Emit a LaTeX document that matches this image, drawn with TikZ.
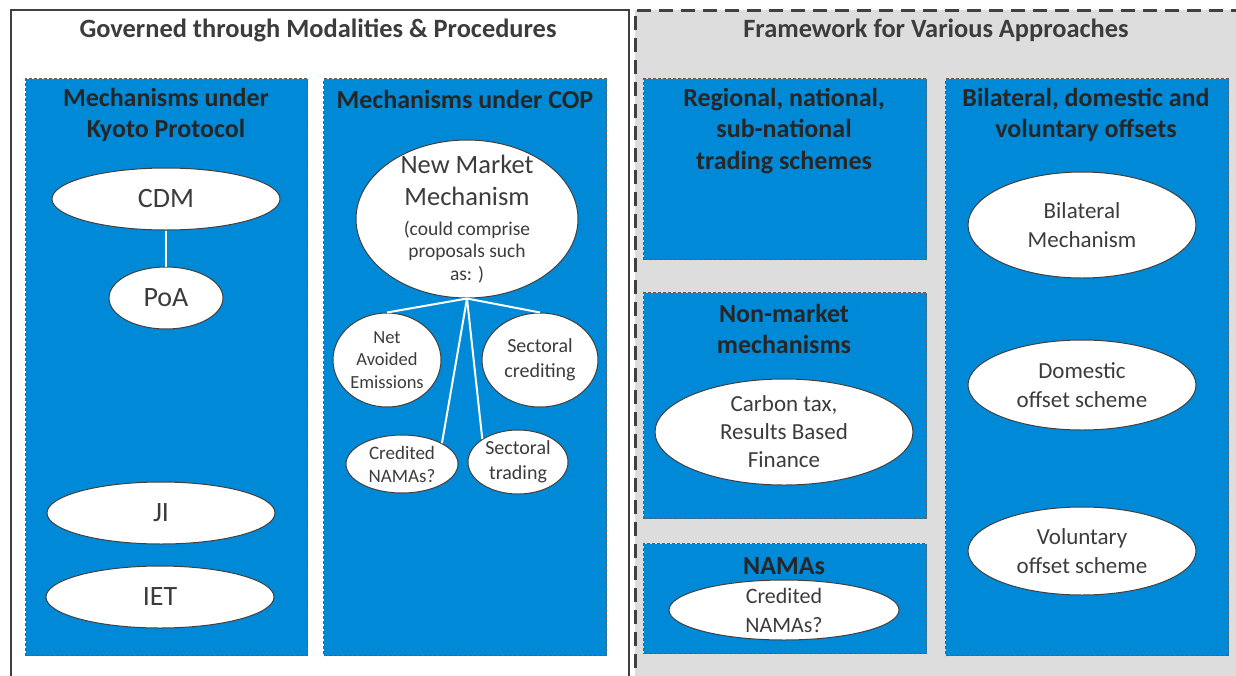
\documentclass[tikz,border=0pt]{standalone}
\usepackage{fontspec}
\setmainfont{Carlito}
\usetikzlibrary{shapes.geometric}
\definecolor{boxblue}{RGB}{0,137,214}
\definecolor{panelgray}{RGB}{221,221,221}
\definecolor{txt}{RGB}{60,60,60}
\definecolor{ttl}{RGB}{38,38,38}
\definecolor{edge}{RGB}{64,64,64}
\newcommand{\fsz}[2]{\fontsize{#1}{#2}\selectfont}
\begin{document}
\begin{tikzpicture}[x=1pt,y=-1pt,
  bluebox/.style={draw=edge!85, dash pattern=on 3pt off 2pt, line width=1pt, fill=boxblue, inner sep=0, anchor=north west},
  ell/.style={ellipse, draw=edge, line width=1pt, fill=white, inner sep=-14pt, text=txt, align=center},
  hdr/.style={text=ttl, font=\bfseries\fsz{26}{31.5}, align=center, inner sep=0},
  ptitle/.style={text=txt, font=\bfseries\fsz{26.4}{30}, inner sep=0},
  link/.style={white, line width=2pt}]
\useasboundingbox (0,0) rectangle (1236,675);
\fill[white] (0,0) rectangle (1236,675);
% panels
\node[draw=edge, line width=2pt, fill=white, inner sep=0, anchor=north west,
  minimum width=618, minimum height=690] (leftpanel) at (10,9) {};
\node[draw=edge, line width=2.5pt, dash pattern=on 14pt off 8pt, fill=panelgray, inner sep=0, anchor=north west,
  minimum width=620, minimum height=690] (rightpanel) at (634,9) {};
\node[ptitle] (lefttitle) at (318,30) {Governed through Modalities \& Procedures};
\node[ptitle] (righttitle) at (936,30) {Framework for Various Approaches};
% blue boxes
\node[bluebox, minimum width=282, minimum height=577] (kyoto) at (25,78) {};
\node[bluebox, minimum width=283, minimum height=577] (cop) at (323,78) {};
\node[bluebox, minimum width=283, minimum height=181] (regional) at (643,78) {};
\node[bluebox, minimum width=283, minimum height=226] (nonmarket) at (643,292) {};
\node[bluebox, minimum width=283, minimum height=110] (namas) at (643,543) {};
\node[bluebox, minimum width=283, minimum height=577] (offsets) at (945,78) {};
% box titles
\node[hdr] (kyotot) at (166,115) {Mechanisms under\\Kyoto Protocol};
\node[hdr] (copt) at (465,99) {Mechanisms under COP};
\node[hdr] (regionalt) at (784,131) {Regional, national,\\sub-national\\trading schemes};
\node[hdr] (nonmarkett) at (784,329) {Non-market\\mechanisms};
\node[hdr] (namast) at (784,566) {NAMAs};
\node[hdr] (offsetst) at (1086,115) {Bilateral, domestic and\\voluntary offsets};
% Kyoto ellipses
\node[ell, font=\fsz{28}{32}, minimum width=228, minimum height=62] (cdm) at (166,199) {CDM};
\node[ell, font=\fsz{28}{32}, minimum width=114, minimum height=62] (poa) at (166,298) {PoA};
\node[ell, font=\fsz{28}{32}, minimum width=228, minimum height=62] (ji) at (161,513) {JI};
\node[ell, font=\fsz{28}{32}, minimum width=228, minimum height=62] (iet) at (160,597) {IET};
\draw[link] (cdm.south) -- (poa.north);
% COP ellipses
\node[ell, font=\fsz{19.5}{22.5}, minimum width=222, minimum height=158] (nmm) at (467,219)
  {\fsz{26.5}{32}New Market\\[9pt]\fsz{26.5}{32}Mechanism\\[7.5pt](could comprise\\proposals such\\as: )};
\node[ell, font=\fsz{18.5}{22.5}, minimum width=108, minimum height=94] (nae) at (387,360) {Net\\Avoided\\Emissions};
\node[ell, font=\fsz{20}{25}, minimum width=116, minimum height=94] (sc) at (540,360) {Sectoral\\crediting};
\node[ell, font=\fsz{19}{23}, minimum width=112, minimum height=58] (cn) at (402,464) {Credited\\NAMAs?};
\node[ell, font=\fsz{20}{25}, minimum width=100, minimum height=64] (st) at (518,462) {Sectoral\\trading};
\draw[link] (nmm.south) -- (nae.north);
\draw[link] (nmm.south) -- (sc.north);
\draw[link] (nmm.south) -- (cn.north east);
\draw[link] (nmm.south) -- (st.north west);
% right side ellipses
\node[ell, font=\fsz{23}{28}, minimum width=258, minimum height=106] (ctax) at (784,432) {Carbon tax,\\Results Based\\Finance};
\node[ell, font=\fsz{22}{29}, minimum width=230, minimum height=60] (cn2) at (784,610) {Credited\\NAMAs?};
\node[ell, font=\fsz{23}{29}, minimum width=228, minimum height=106] (bil) at (1082,225) {Bilateral\\Mechanism};
\node[ell, font=\fsz{23}{29}, minimum width=228, minimum height=90] (dom) at (1082,385) {Domestic\\offset scheme};
\node[ell, font=\fsz{23}{29}, minimum width=228, minimum height=88] (vol) at (1082,551) {Voluntary\\offset scheme};
\end{tikzpicture}
\end{document}
